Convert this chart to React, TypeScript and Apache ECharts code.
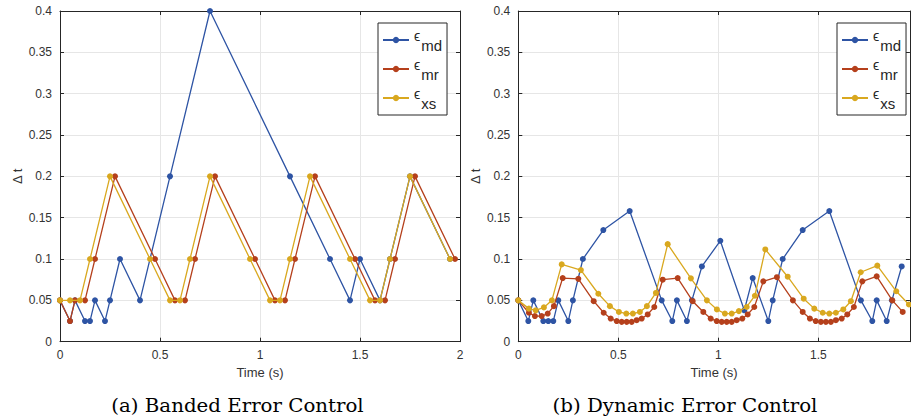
import React, { useEffect, useRef } from "react";
import * as echarts from "echarts";

// ---- Data: (a) Banded Error Control ----
const bandedTimeMd = [0, 0.05, 0.075, 0.125, 0.15, 0.175, 0.225, 0.25, 0.3, 0.4, 0.55, 0.75, 1.15, 1.35, 1.45, 1.5, 1.6, 1.65, 1.75, 1.95];
const bandedDtMd = [0.05, 0.025, 0.05, 0.025, 0.025, 0.05, 0.025, 0.05, 0.1, 0.05, 0.2, 0.4, 0.2, 0.1, 0.05, 0.1, 0.05, 0.1, 0.2, 0.1];
const bandedTimeMr = [0, 0.05, 0.075, 0.125, 0.175, 0.275, 0.475, 0.575, 0.625, 0.675, 0.775, 0.975, 1.075, 1.125, 1.175, 1.275, 1.475, 1.575, 1.625, 1.675, 1.775, 1.975];
const bandedDtMr = [0.05, 0.025, 0.05, 0.05, 0.1, 0.2, 0.1, 0.05, 0.05, 0.1, 0.2, 0.1, 0.05, 0.05, 0.1, 0.2, 0.1, 0.05, 0.05, 0.1, 0.2, 0.1];
const bandedTimeXs = [0, 0.05, 0.1, 0.15, 0.25, 0.45, 0.55, 0.6, 0.65, 0.75, 0.95, 1.05, 1.1, 1.15, 1.25, 1.45, 1.55, 1.6, 1.65, 1.75, 1.95];
const bandedDtXs = [0.05, 0.05, 0.05, 0.1, 0.2, 0.1, 0.05, 0.05, 0.1, 0.2, 0.1, 0.05, 0.05, 0.1, 0.2, 0.1, 0.05, 0.05, 0.1, 0.2, 0.1];

// ---- Data: (b) Dynamic Error Control ----
const dynTimeMd = [0, 0.05, 0.075, 0.125, 0.15, 0.175, 0.2, 0.25, 0.273, 0.323, 0.425, 0.557, 0.717, 0.77, 0.793, 0.843, 0.868, 0.918, 1.01, 1.13, 1.172, 1.25, 1.272, 1.322, 1.422, 1.555, 1.713, 1.77, 1.792, 1.842, 1.868, 1.917];
const dynDtMd = [0.05, 0.025, 0.05, 0.025, 0.025, 0.025, 0.05, 0.025, 0.05, 0.1, 0.135, 0.158, 0.05, 0.025, 0.05, 0.025, 0.05, 0.091, 0.122, 0.038, 0.077, 0.025, 0.05, 0.1, 0.135, 0.158, 0.05, 0.025, 0.05, 0.025, 0.05, 0.091];
const dynTimeMr = [0, 0.053, 0.083, 0.117, 0.147, 0.178, 0.222, 0.3, 0.377, 0.427, 0.462, 0.492, 0.517, 0.542, 0.567, 0.592, 0.617, 0.647, 0.68, 0.722, 0.797, 0.872, 0.925, 0.962, 0.992, 1.017, 1.042, 1.067, 1.092, 1.12, 1.147, 1.18, 1.225, 1.293, 1.373, 1.422, 1.458, 1.487, 1.513, 1.538, 1.563, 1.588, 1.617, 1.645, 1.678, 1.72, 1.792, 1.87, 1.922];
const dynDtMr = [0.05, 0.035, 0.031, 0.031, 0.034, 0.043, 0.077, 0.076, 0.049, 0.035, 0.028, 0.025, 0.024, 0.024, 0.024, 0.026, 0.028, 0.033, 0.042, 0.075, 0.077, 0.049, 0.036, 0.028, 0.025, 0.024, 0.024, 0.024, 0.026, 0.028, 0.033, 0.042, 0.073, 0.078, 0.05, 0.036, 0.028, 0.025, 0.024, 0.024, 0.024, 0.026, 0.028, 0.033, 0.042, 0.073, 0.079, 0.05, 0.036];
const dynTimeXs = [0, 0.053, 0.087, 0.128, 0.168, 0.217, 0.313, 0.4, 0.458, 0.503, 0.54, 0.573, 0.608, 0.643, 0.688, 0.747, 0.863, 0.943, 0.993, 1.033, 1.067, 1.103, 1.142, 1.183, 1.235, 1.347, 1.427, 1.48, 1.522, 1.555, 1.588, 1.625, 1.663, 1.712, 1.795, 1.89, 1.953];
const dynDtXs = [0.05, 0.04, 0.038, 0.0415, 0.05, 0.0935, 0.0866, 0.058, 0.043, 0.036, 0.034, 0.034, 0.036, 0.043, 0.059, 0.118, 0.0766, 0.05, 0.039, 0.034, 0.034, 0.037, 0.042, 0.0556, 0.1116, 0.0786, 0.052, 0.04, 0.035, 0.034, 0.035, 0.039, 0.049, 0.084, 0.092, 0.061, 0.045];

const seriesNames = ["md", "mr", "xs"];
const seriesColors = ["#2E54A4", "#B5401C", "#D9A81F"];
const captions = ["(a) Banded Error Control", "(b) Dynamic Error Control"];
const xAxisName = "Time (s)";
const yAxisName = "\u0394 t";

const zip = (t: number[], v: number[]) => t.map((x, i) => [x, v[i]]);

export default function App() {
  const ref = useRef<HTMLDivElement>(null);
  useEffect(() => {
    if (!ref.current) return;
    const chart = echarts.init(ref.current, null, { renderer: "svg" });
    const axisColor = "#262626";
    const labelStyle = { color: "#333", fontSize: 12, fontFamily: "Liberation Sans" };

    const grids = [
      { left: 60, top: 11, width: 400, height: 330.7 },
      { left: 518.3, top: 11, width: 391.6, height: 330.7 },
    ];
    const xMax = [2, 1.958];

    const xAxes: any[] = [];
    const yAxes: any[] = [];
    [0, 1].forEach((g) => {
      xAxes.push({
        type: "value", gridIndex: g, position: "bottom", min: 0, max: xMax[g], interval: 0.5,
        name: xAxisName, nameLocation: "middle", nameGap: 24,
        nameTextStyle: { ...labelStyle, fontSize: 13 },
        axisLine: { onZero: false, lineStyle: { color: axisColor, width: 1 } },
        axisTick: { inside: true, length: 4, lineStyle: { color: axisColor } },
        axisLabel: { ...labelStyle, margin: 7, showMaxLabel: g === 0, formatter: (v: number) => String(v) },
        splitLine: { show: true, lineStyle: { color: "#e6e6e6", width: 1 } },
      });
      xAxes.push({
        type: "value", gridIndex: g, position: "top", min: 0, max: xMax[g], interval: 0.5,
        axisLine: { onZero: false, lineStyle: { color: axisColor, width: 1 } },
        axisTick: { inside: true, length: 4, lineStyle: { color: axisColor } },
        axisLabel: { show: false }, splitLine: { show: false },
      });
      yAxes.push({
        type: "value", gridIndex: g, position: "left", min: 0, max: 0.4, interval: 0.05,
        name: yAxisName, nameLocation: "middle", nameGap: 36, nameRotate: 90,
        nameTextStyle: { ...labelStyle, fontSize: 13 },
        axisLine: { show: true, onZero: false, lineStyle: { color: axisColor, width: 1 } },
        axisTick: { show: true, inside: true, length: 4, lineStyle: { color: axisColor } },
        axisLabel: { ...labelStyle, margin: 8, formatter: (v: number) => String(Math.round(v * 100) / 100) },
        splitLine: { show: true, lineStyle: { color: "#e6e6e6", width: 1 } },
      });
      yAxes.push({
        type: "value", gridIndex: g, position: "right", min: 0, max: 0.4, interval: 0.05,
        axisLine: { show: true, onZero: false, lineStyle: { color: axisColor, width: 1 } },
        axisTick: { show: true, inside: true, length: 4, lineStyle: { color: axisColor } },
        axisLabel: { show: false }, splitLine: { show: false },
      });
    });

    const panelData = [
      [zip(bandedTimeMd, bandedDtMd), zip(bandedTimeMr, bandedDtMr), zip(bandedTimeXs, bandedDtXs)],
      [zip(dynTimeMd, dynDtMd), zip(dynTimeMr, dynDtMr), zip(dynTimeXs, dynDtXs)],
    ];

    const series: any[] = [];
    [0, 1].forEach((g) => {
      seriesNames.forEach((name, i) => {
        series.push({
          type: "line", name, xAxisIndex: g * 2, yAxisIndex: g * 2,
          data: panelData[g][i], symbol: "circle", symbolSize: 6,
          lineStyle: { color: seriesColors[i], width: 1.3 },
          itemStyle: { color: seriesColors[i] },
          z: 2 + i,
        });
      });
    });

    const legendCommon = {
      orient: "vertical", top: 23, data: seriesNames,
      itemWidth: 26, itemHeight: 8, itemGap: 3,
      padding: [4, 5, 4, 4],
      borderColor: axisColor, borderWidth: 1, backgroundColor: "#fff",
      formatter: (n: string) => `{e|\u03F5}{s|${n}}`,
      textStyle: {
        color: "#262626", fontFamily: "Liberation Sans",
        rich: {
          e: { fontSize: 14, verticalAlign: "top", lineHeight: 26, padding: [2, 1, 0, 0] },
          s: { fontSize: 15, verticalAlign: "bottom", lineHeight: 26, padding: [9, 0, 0, 0] },
        },
      },
    };

    const captionStyle = { fontFamily: "DejaVu Serif", fontSize: 18, fill: "#000", align: "center", verticalAlign: "middle" };

    chart.setOption({
      animation: false,
      backgroundColor: "#fff",
      grid: grids,
      xAxis: xAxes,
      yAxis: yAxes,
      legend: [
        { ...legendCommon, left: 378 },
        { ...legendCommon, left: 837 },
      ],
      series,
      graphic: [
        { type: "text", x: 237.5, y: 405, scaleX: 1.1, style: { ...captionStyle, text: captions[0] } },
        { type: "text", x: 685, y: 405, scaleX: 1.1, style: { ...captionStyle, text: captions[1] } },
      ],
    });
    return () => chart.dispose();
  }, []);
  return <div ref={ref} style={{ position: "fixed", left: 0, top: 0, width: 911, height: 419 }} />;
}
